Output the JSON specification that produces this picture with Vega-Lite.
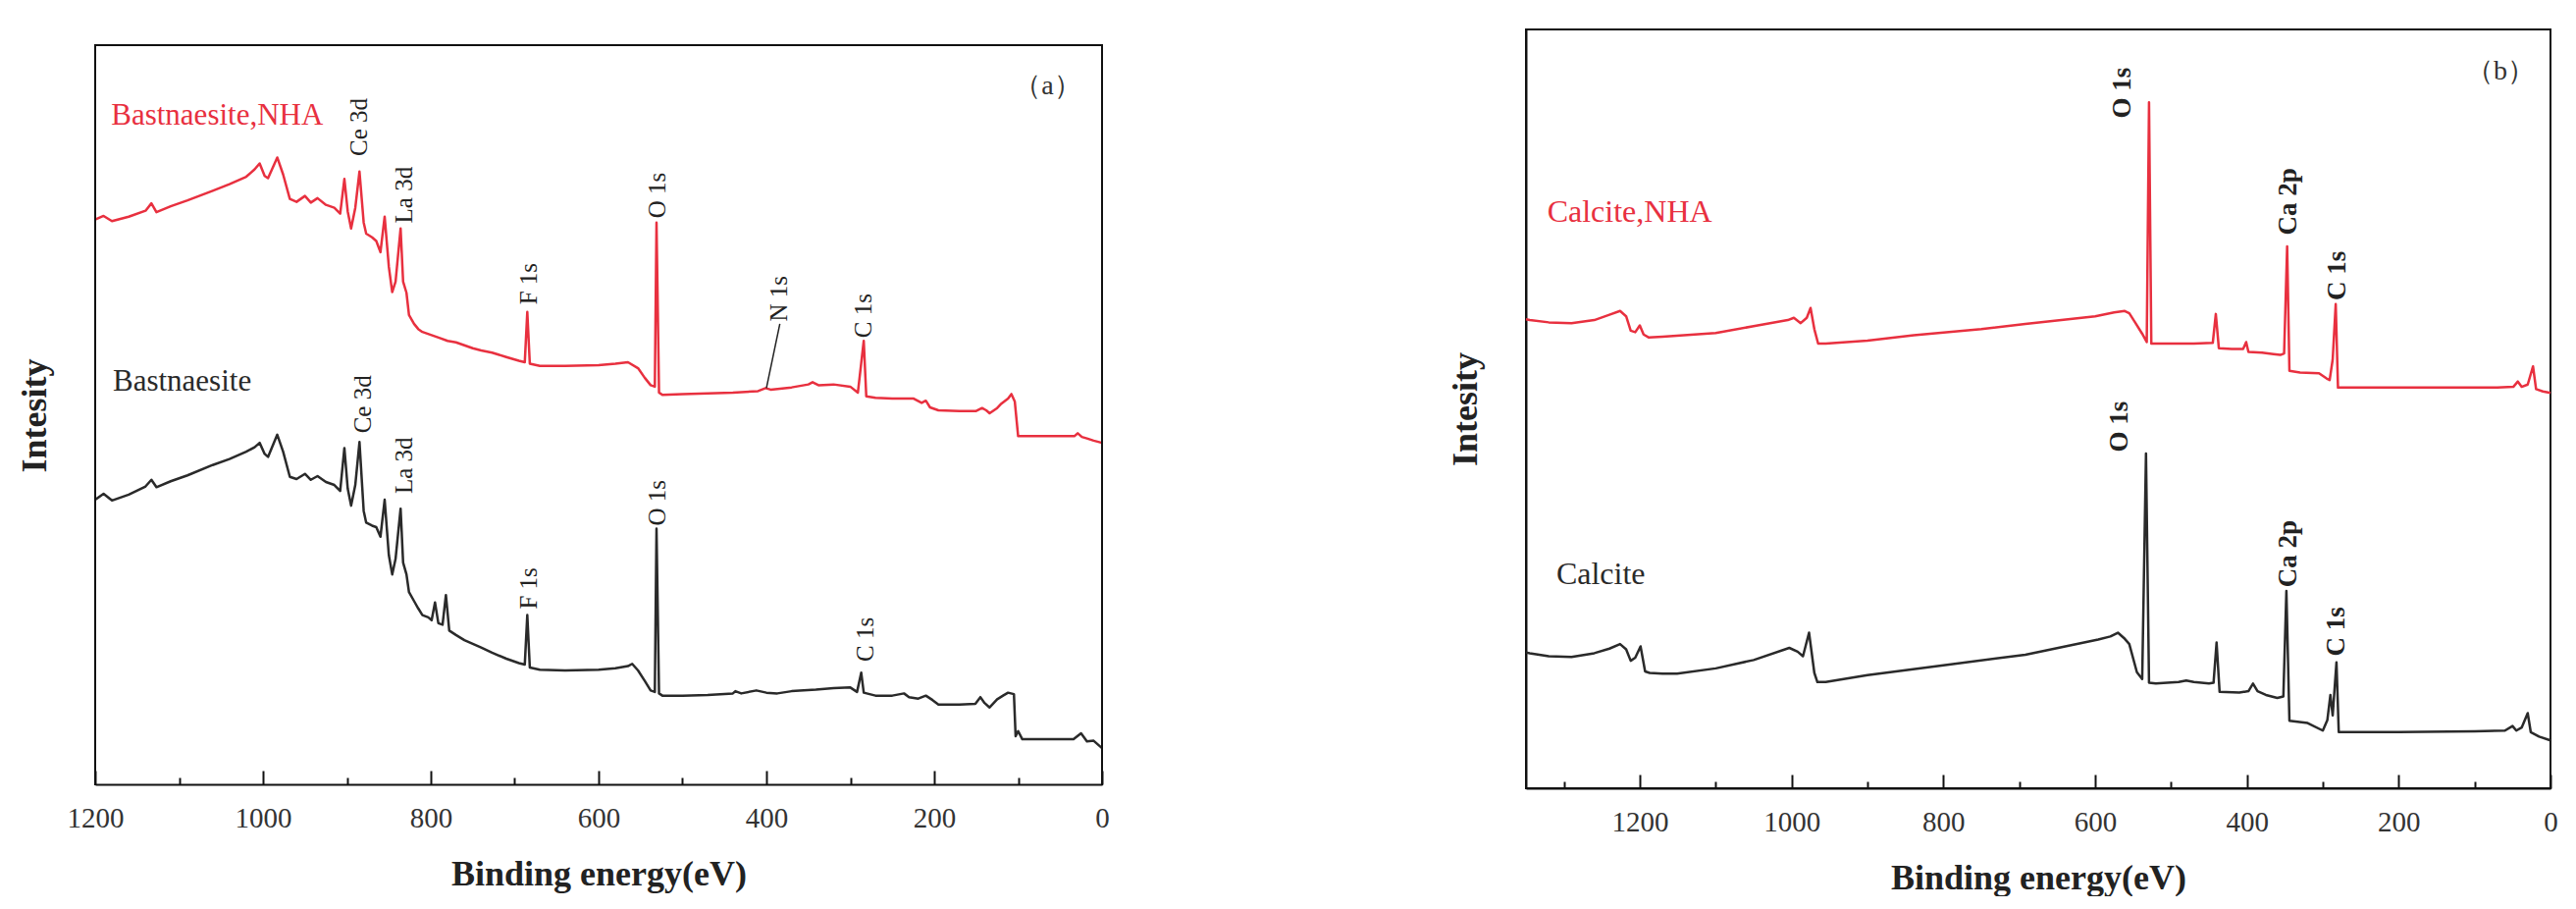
{
"$schema": "https://vega.github.io/schema/vega-lite/v6.json",
"background": "white",
"padding": {"left": 17, "top": 29, "right": 0, "bottom": 0},
"spacing": 343,
"align": "none",
"bounds": "full",
"config": {
  "view": {"stroke": "#111111", "strokeWidth": 2},
  "font": "Liberation Serif",
  "axis": {"grid": false, "domainColor": "#111111", "domainWidth": 2, "tickColor": "#111111", "tickWidth": 2, "labelFont": "Liberation Serif", "titleFont": "Liberation Serif", "labelColor": "#333333", "titleColor": "#222222"},
  "text": {"font": "Liberation Serif"}
},
"datasets": {
  "spectraA": [
{"sample":"Bastnaesite,NHA","energy":1200,"intensity":76.4},{"sample":"Bastnaesite,NHA","energy":1190,"intensity":76.9},{"sample":"Bastnaesite,NHA","energy":1180,"intensity":76.2},{"sample":"Bastnaesite,NHA","energy":1160,"intensity":76.8},{"sample":"Bastnaesite,NHA","energy":1140,"intensity":77.6},{"sample":"Bastnaesite,NHA","energy":1133,"intensity":78.6},{"sample":"Bastnaesite,NHA","energy":1127,"intensity":77.4},{"sample":"Bastnaesite,NHA","energy":1110,"intensity":78.2},{"sample":"Bastnaesite,NHA","energy":1090,"intensity":79.0},{"sample":"Bastnaesite,NHA","energy":1060,"intensity":80.3},{"sample":"Bastnaesite,NHA","energy":1040,"intensity":81.2},{"sample":"Bastnaesite,NHA","energy":1020,"intensity":82.2},{"sample":"Bastnaesite,NHA","energy":1010,"intensity":83.2},{"sample":"Bastnaesite,NHA","energy":1004,"intensity":84.0},{"sample":"Bastnaesite,NHA","energy":998,"intensity":82.3},{"sample":"Bastnaesite,NHA","energy":994,"intensity":82.0},{"sample":"Bastnaesite,NHA","energy":983,"intensity":84.8},{"sample":"Bastnaesite,NHA","energy":976,"intensity":82.5},{"sample":"Bastnaesite,NHA","energy":968,"intensity":79.2},{"sample":"Bastnaesite,NHA","energy":960,"intensity":78.8},{"sample":"Bastnaesite,NHA","energy":950,"intensity":79.6},{"sample":"Bastnaesite,NHA","energy":943,"intensity":78.7},{"sample":"Bastnaesite,NHA","energy":935,"intensity":79.3},{"sample":"Bastnaesite,NHA","energy":925,"intensity":78.4},{"sample":"Bastnaesite,NHA","energy":915,"intensity":78.0},{"sample":"Bastnaesite,NHA","energy":908,"intensity":77.2},{"sample":"Bastnaesite,NHA","energy":903,"intensity":81.9},{"sample":"Bastnaesite,NHA","energy":899,"intensity":77.5},{"sample":"Bastnaesite,NHA","energy":895,"intensity":75.2},{"sample":"Bastnaesite,NHA","energy":890,"intensity":78.0},{"sample":"Bastnaesite,NHA","energy":885,"intensity":82.9},{"sample":"Bastnaesite,NHA","energy":880,"intensity":76.0},{"sample":"Bastnaesite,NHA","energy":877,"intensity":74.5},{"sample":"Bastnaesite,NHA","energy":870,"intensity":74.0},{"sample":"Bastnaesite,NHA","energy":865,"intensity":73.5},{"sample":"Bastnaesite,NHA","energy":860,"intensity":72.0},{"sample":"Bastnaesite,NHA","energy":855,"intensity":76.8},{"sample":"Bastnaesite,NHA","energy":850,"intensity":70.0},{"sample":"Bastnaesite,NHA","energy":846,"intensity":66.6},{"sample":"Bastnaesite,NHA","energy":842,"intensity":68.0},{"sample":"Bastnaesite,NHA","energy":836,"intensity":75.2},{"sample":"Bastnaesite,NHA","energy":833,"intensity":68.0},{"sample":"Bastnaesite,NHA","energy":829,"intensity":66.5},{"sample":"Bastnaesite,NHA","energy":826,"intensity":63.5},{"sample":"Bastnaesite,NHA","energy":820,"intensity":62.3},{"sample":"Bastnaesite,NHA","energy":815,"intensity":61.6},{"sample":"Bastnaesite,NHA","energy":810,"intensity":61.2},{"sample":"Bastnaesite,NHA","energy":800,"intensity":60.8},{"sample":"Bastnaesite,NHA","energy":790,"intensity":60.4},{"sample":"Bastnaesite,NHA","energy":780,"intensity":60.0},{"sample":"Bastnaesite,NHA","energy":770,"intensity":59.8},{"sample":"Bastnaesite,NHA","energy":760,"intensity":59.4},{"sample":"Bastnaesite,NHA","energy":750,"intensity":59.0},{"sample":"Bastnaesite,NHA","energy":740,"intensity":58.7},{"sample":"Bastnaesite,NHA","energy":727,"intensity":58.4},{"sample":"Bastnaesite,NHA","energy":710,"intensity":57.8},{"sample":"Bastnaesite,NHA","energy":695,"intensity":57.3},{"sample":"Bastnaesite,NHA","energy":688,"intensity":57.1},{"sample":"Bastnaesite,NHA","energy":685,"intensity":63.9},{"sample":"Bastnaesite,NHA","energy":682,"intensity":56.9},{"sample":"Bastnaesite,NHA","energy":670,"intensity":56.6},{"sample":"Bastnaesite,NHA","energy":640,"intensity":56.6},{"sample":"Bastnaesite,NHA","energy":600,"intensity":56.7},{"sample":"Bastnaesite,NHA","energy":580,"intensity":56.9},{"sample":"Bastnaesite,NHA","energy":565,"intensity":57.1},{"sample":"Bastnaesite,NHA","energy":553,"intensity":56.3},{"sample":"Bastnaesite,NHA","energy":545,"intensity":55.0},{"sample":"Bastnaesite,NHA","energy":538,"intensity":54.0},{"sample":"Bastnaesite,NHA","energy":533,"intensity":53.8},{"sample":"Bastnaesite,NHA","energy":531,"intensity":76.0},{"sample":"Bastnaesite,NHA","energy":528,"intensity":53.0},{"sample":"Bastnaesite,NHA","energy":524,"intensity":52.7},{"sample":"Bastnaesite,NHA","energy":500,"intensity":52.8},{"sample":"Bastnaesite,NHA","energy":470,"intensity":52.9},{"sample":"Bastnaesite,NHA","energy":440,"intensity":53.0},{"sample":"Bastnaesite,NHA","energy":410,"intensity":53.2},{"sample":"Bastnaesite,NHA","energy":401,"intensity":53.6},{"sample":"Bastnaesite,NHA","energy":395,"intensity":53.4},{"sample":"Bastnaesite,NHA","energy":370,"intensity":53.7},{"sample":"Bastnaesite,NHA","energy":350,"intensity":54.1},{"sample":"Bastnaesite,NHA","energy":345,"intensity":54.4},{"sample":"Bastnaesite,NHA","energy":338,"intensity":54.0},{"sample":"Bastnaesite,NHA","energy":320,"intensity":54.1},{"sample":"Bastnaesite,NHA","energy":300,"intensity":53.8},{"sample":"Bastnaesite,NHA","energy":291,"intensity":53.0},{"sample":"Bastnaesite,NHA","energy":287,"intensity":57.0},{"sample":"Bastnaesite,NHA","energy":284,"intensity":60.0},{"sample":"Bastnaesite,NHA","energy":281,"intensity":52.5},{"sample":"Bastnaesite,NHA","energy":270,"intensity":52.3},{"sample":"Bastnaesite,NHA","energy":250,"intensity":52.2},{"sample":"Bastnaesite,NHA","energy":225,"intensity":52.2},{"sample":"Bastnaesite,NHA","energy":215,"intensity":51.6},{"sample":"Bastnaesite,NHA","energy":210,"intensity":51.9},{"sample":"Bastnaesite,NHA","energy":205,"intensity":51.0},{"sample":"Bastnaesite,NHA","energy":195,"intensity":50.6},{"sample":"Bastnaesite,NHA","energy":170,"intensity":50.5},{"sample":"Bastnaesite,NHA","energy":150,"intensity":50.5},{"sample":"Bastnaesite,NHA","energy":143,"intensity":50.9},{"sample":"Bastnaesite,NHA","energy":138,"intensity":50.6},{"sample":"Bastnaesite,NHA","energy":134,"intensity":50.2},{"sample":"Bastnaesite,NHA","energy":125,"intensity":50.9},{"sample":"Bastnaesite,NHA","energy":120,"intensity":51.5},{"sample":"Bastnaesite,NHA","energy":112,"intensity":52.2},{"sample":"Bastnaesite,NHA","energy":108,"intensity":52.8},{"sample":"Bastnaesite,NHA","energy":104,"intensity":51.8},{"sample":"Bastnaesite,NHA","energy":100,"intensity":47.1},{"sample":"Bastnaesite,NHA","energy":95,"intensity":47.1},{"sample":"Bastnaesite,NHA","energy":60,"intensity":47.1},{"sample":"Bastnaesite,NHA","energy":33,"intensity":47.1},{"sample":"Bastnaesite,NHA","energy":29,"intensity":47.5},{"sample":"Bastnaesite,NHA","energy":24,"intensity":47.0},{"sample":"Bastnaesite,NHA","energy":18,"intensity":46.8},{"sample":"Bastnaesite,NHA","energy":10,"intensity":46.5},{"sample":"Bastnaesite,NHA","energy":0,"intensity":46.2},
{"sample":"Bastnaesite","energy":1200,"intensity":38.5},{"sample":"Bastnaesite","energy":1190,"intensity":39.3},{"sample":"Bastnaesite","energy":1180,"intensity":38.4},{"sample":"Bastnaesite","energy":1160,"intensity":39.2},{"sample":"Bastnaesite","energy":1140,"intensity":40.3},{"sample":"Bastnaesite","energy":1133,"intensity":41.2},{"sample":"Bastnaesite","energy":1127,"intensity":40.2},{"sample":"Bastnaesite","energy":1110,"intensity":41.0},{"sample":"Bastnaesite","energy":1090,"intensity":41.8},{"sample":"Bastnaesite","energy":1060,"intensity":43.2},{"sample":"Bastnaesite","energy":1040,"intensity":44.0},{"sample":"Bastnaesite","energy":1020,"intensity":45.0},{"sample":"Bastnaesite","energy":1010,"intensity":45.6},{"sample":"Bastnaesite","energy":1004,"intensity":46.2},{"sample":"Bastnaesite","energy":998,"intensity":44.7},{"sample":"Bastnaesite","energy":994,"intensity":44.3},{"sample":"Bastnaesite","energy":983,"intensity":47.3},{"sample":"Bastnaesite","energy":976,"intensity":45.0},{"sample":"Bastnaesite","energy":968,"intensity":41.6},{"sample":"Bastnaesite","energy":960,"intensity":41.3},{"sample":"Bastnaesite","energy":950,"intensity":42.0},{"sample":"Bastnaesite","energy":943,"intensity":41.2},{"sample":"Bastnaesite","energy":935,"intensity":41.7},{"sample":"Bastnaesite","energy":925,"intensity":40.9},{"sample":"Bastnaesite","energy":915,"intensity":40.5},{"sample":"Bastnaesite","energy":908,"intensity":39.7},{"sample":"Bastnaesite","energy":903,"intensity":45.5},{"sample":"Bastnaesite","energy":899,"intensity":40.0},{"sample":"Bastnaesite","energy":895,"intensity":37.7},{"sample":"Bastnaesite","energy":890,"intensity":40.5},{"sample":"Bastnaesite","energy":885,"intensity":46.3},{"sample":"Bastnaesite","energy":880,"intensity":37.0},{"sample":"Bastnaesite","energy":877,"intensity":35.4},{"sample":"Bastnaesite","energy":870,"intensity":35.0},{"sample":"Bastnaesite","energy":865,"intensity":34.8},{"sample":"Bastnaesite","energy":860,"intensity":33.5},{"sample":"Bastnaesite","energy":855,"intensity":38.5},{"sample":"Bastnaesite","energy":850,"intensity":31.0},{"sample":"Bastnaesite","energy":846,"intensity":28.4},{"sample":"Bastnaesite","energy":842,"intensity":30.5},{"sample":"Bastnaesite","energy":836,"intensity":37.3},{"sample":"Bastnaesite","energy":833,"intensity":30.0},{"sample":"Bastnaesite","energy":829,"intensity":28.4},{"sample":"Bastnaesite","energy":826,"intensity":26.0},{"sample":"Bastnaesite","energy":820,"intensity":24.8},{"sample":"Bastnaesite","energy":815,"intensity":23.8},{"sample":"Bastnaesite","energy":810,"intensity":22.9},{"sample":"Bastnaesite","energy":803,"intensity":22.6},{"sample":"Bastnaesite","energy":799,"intensity":22.2},{"sample":"Bastnaesite","energy":795,"intensity":24.6},{"sample":"Bastnaesite","energy":791,"intensity":21.8},{"sample":"Bastnaesite","energy":786,"intensity":21.6},{"sample":"Bastnaesite","energy":782,"intensity":25.6},{"sample":"Bastnaesite","energy":778,"intensity":20.8},{"sample":"Bastnaesite","energy":770,"intensity":20.2},{"sample":"Bastnaesite","energy":760,"intensity":19.5},{"sample":"Bastnaesite","energy":740,"intensity":18.5},{"sample":"Bastnaesite","energy":727,"intensity":17.8},{"sample":"Bastnaesite","energy":710,"intensity":17.0},{"sample":"Bastnaesite","energy":695,"intensity":16.4},{"sample":"Bastnaesite","energy":688,"intensity":16.2},{"sample":"Bastnaesite","energy":685,"intensity":22.9},{"sample":"Bastnaesite","energy":682,"intensity":15.8},{"sample":"Bastnaesite","energy":670,"intensity":15.5},{"sample":"Bastnaesite","energy":640,"intensity":15.4},{"sample":"Bastnaesite","energy":600,"intensity":15.5},{"sample":"Bastnaesite","energy":580,"intensity":15.7},{"sample":"Bastnaesite","energy":565,"intensity":16.0},{"sample":"Bastnaesite","energy":560,"intensity":16.3},{"sample":"Bastnaesite","energy":553,"intensity":15.4},{"sample":"Bastnaesite","energy":545,"intensity":14.0},{"sample":"Bastnaesite","energy":538,"intensity":12.7},{"sample":"Bastnaesite","energy":533,"intensity":12.5},{"sample":"Bastnaesite","energy":531,"intensity":34.6},{"sample":"Bastnaesite","energy":528,"intensity":12.3},{"sample":"Bastnaesite","energy":524,"intensity":12.0},{"sample":"Bastnaesite","energy":500,"intensity":12.0},{"sample":"Bastnaesite","energy":470,"intensity":12.1},{"sample":"Bastnaesite","energy":440,"intensity":12.3},{"sample":"Bastnaesite","energy":437,"intensity":12.6},{"sample":"Bastnaesite","energy":430,"intensity":12.3},{"sample":"Bastnaesite","energy":412,"intensity":12.7},{"sample":"Bastnaesite","energy":400,"intensity":12.4},{"sample":"Bastnaesite","energy":387,"intensity":12.3},{"sample":"Bastnaesite","energy":370,"intensity":12.6},{"sample":"Bastnaesite","energy":341,"intensity":12.8},{"sample":"Bastnaesite","energy":320,"intensity":13.0},{"sample":"Bastnaesite","energy":300,"intensity":13.1},{"sample":"Bastnaesite","energy":292,"intensity":12.5},{"sample":"Bastnaesite","energy":287,"intensity":15.1},{"sample":"Bastnaesite","energy":284,"intensity":12.4},{"sample":"Bastnaesite","energy":270,"intensity":12.0},{"sample":"Bastnaesite","energy":250,"intensity":12.0},{"sample":"Bastnaesite","energy":236,"intensity":12.3},{"sample":"Bastnaesite","energy":230,"intensity":11.8},{"sample":"Bastnaesite","energy":219,"intensity":11.6},{"sample":"Bastnaesite","energy":210,"intensity":12.0},{"sample":"Bastnaesite","energy":202,"intensity":11.4},{"sample":"Bastnaesite","energy":195,"intensity":10.8},{"sample":"Bastnaesite","energy":170,"intensity":10.8},{"sample":"Bastnaesite","energy":151,"intensity":10.9},{"sample":"Bastnaesite","energy":145,"intensity":11.8},{"sample":"Bastnaesite","energy":140,"intensity":11.0},{"sample":"Bastnaesite","energy":134,"intensity":10.4},{"sample":"Bastnaesite","energy":125,"intensity":11.5},{"sample":"Bastnaesite","energy":118,"intensity":12.0},{"sample":"Bastnaesite","energy":112,"intensity":12.4},{"sample":"Bastnaesite","energy":105,"intensity":12.2},{"sample":"Bastnaesite","energy":103,"intensity":6.5},{"sample":"Bastnaesite","energy":100,"intensity":7.2},{"sample":"Bastnaesite","energy":95,"intensity":6.1},{"sample":"Bastnaesite","energy":60,"intensity":6.1},{"sample":"Bastnaesite","energy":34,"intensity":6.1},{"sample":"Bastnaesite","energy":25,"intensity":6.9},{"sample":"Bastnaesite","energy":18,"intensity":5.8},{"sample":"Bastnaesite","energy":10,"intensity":5.9},{"sample":"Bastnaesite","energy":0,"intensity":4.9}
  ],
  "spectraB": [
{"sample":"Calcite,NHA","energy":1350,"intensity":61.8},{"sample":"Calcite,NHA","energy":1345,"intensity":61.7},{"sample":"Calcite,NHA","energy":1320,"intensity":61.4},{"sample":"Calcite,NHA","energy":1290,"intensity":61.3},{"sample":"Calcite,NHA","energy":1260,"intensity":61.7},{"sample":"Calcite,NHA","energy":1240,"intensity":62.4},{"sample":"Calcite,NHA","energy":1226,"intensity":62.9},{"sample":"Calcite,NHA","energy":1218,"intensity":62.2},{"sample":"Calcite,NHA","energy":1212,"intensity":60.3},{"sample":"Calcite,NHA","energy":1206,"intensity":60.1},{"sample":"Calcite,NHA","energy":1200,"intensity":61.0},{"sample":"Calcite,NHA","energy":1195,"intensity":59.8},{"sample":"Calcite,NHA","energy":1188,"intensity":59.4},{"sample":"Calcite,NHA","energy":1170,"intensity":59.5},{"sample":"Calcite,NHA","energy":1100,"intensity":60.0},{"sample":"Calcite,NHA","energy":1050,"intensity":60.9},{"sample":"Calcite,NHA","energy":1005,"intensity":61.7},{"sample":"Calcite,NHA","energy":997,"intensity":62.0},{"sample":"Calcite,NHA","energy":988,"intensity":61.3},{"sample":"Calcite,NHA","energy":980,"intensity":62.0},{"sample":"Calcite,NHA","energy":975,"intensity":63.3},{"sample":"Calcite,NHA","energy":970,"intensity":60.5},{"sample":"Calcite,NHA","energy":965,"intensity":58.6},{"sample":"Calcite,NHA","energy":955,"intensity":58.6},{"sample":"Calcite,NHA","energy":900,"intensity":59.0},{"sample":"Calcite,NHA","energy":839,"intensity":59.7},{"sample":"Calcite,NHA","energy":750,"intensity":60.5},{"sample":"Calcite,NHA","energy":692,"intensity":61.2},{"sample":"Calcite,NHA","energy":600,"intensity":62.2},{"sample":"Calcite,NHA","energy":575,"intensity":62.7},{"sample":"Calcite,NHA","energy":561,"intensity":62.9},{"sample":"Calcite,NHA","energy":555,"intensity":62.6},{"sample":"Calcite,NHA","energy":548,"intensity":61.5},{"sample":"Calcite,NHA","energy":538,"intensity":59.9},{"sample":"Calcite,NHA","energy":532,"intensity":58.8},{"sample":"Calcite,NHA","energy":529,"intensity":90.4},{"sample":"Calcite,NHA","energy":526,"intensity":58.6},{"sample":"Calcite,NHA","energy":500,"intensity":58.6},{"sample":"Calcite,NHA","energy":470,"intensity":58.6},{"sample":"Calcite,NHA","energy":445,"intensity":58.7},{"sample":"Calcite,NHA","energy":441,"intensity":62.5},{"sample":"Calcite,NHA","energy":437,"intensity":58.0},{"sample":"Calcite,NHA","energy":420,"intensity":57.9},{"sample":"Calcite,NHA","energy":405,"intensity":57.9},{"sample":"Calcite,NHA","energy":401,"intensity":58.8},{"sample":"Calcite,NHA","energy":398,"intensity":57.5},{"sample":"Calcite,NHA","energy":380,"intensity":57.4},{"sample":"Calcite,NHA","energy":365,"intensity":57.2},{"sample":"Calcite,NHA","energy":356,"intensity":57.1},{"sample":"Calcite,NHA","energy":351,"intensity":57.3},{"sample":"Calcite,NHA","energy":347,"intensity":71.4},{"sample":"Calcite,NHA","energy":344,"intensity":55.0},{"sample":"Calcite,NHA","energy":330,"intensity":54.8},{"sample":"Calcite,NHA","energy":305,"intensity":54.7},{"sample":"Calcite,NHA","energy":295,"intensity":54.0},{"sample":"Calcite,NHA","energy":291,"intensity":53.8},{"sample":"Calcite,NHA","energy":287,"intensity":56.5},{"sample":"Calcite,NHA","energy":283,"intensity":63.8},{"sample":"Calcite,NHA","energy":280,"intensity":52.8},{"sample":"Calcite,NHA","energy":250,"intensity":52.8},{"sample":"Calcite,NHA","energy":150,"intensity":52.8},{"sample":"Calcite,NHA","energy":70,"intensity":52.8},{"sample":"Calcite,NHA","energy":49,"intensity":52.9},{"sample":"Calcite,NHA","energy":43,"intensity":53.6},{"sample":"Calcite,NHA","energy":38,"intensity":52.9},{"sample":"Calcite,NHA","energy":30,"intensity":53.2},{"sample":"Calcite,NHA","energy":23,"intensity":55.6},{"sample":"Calcite,NHA","energy":19,"intensity":52.6},{"sample":"Calcite,NHA","energy":10,"intensity":52.3},{"sample":"Calcite,NHA","energy":0,"intensity":52.1},
{"sample":"Calcite","energy":1350,"intensity":17.9},{"sample":"Calcite","energy":1345,"intensity":17.8},{"sample":"Calcite","energy":1320,"intensity":17.4},{"sample":"Calcite","energy":1290,"intensity":17.3},{"sample":"Calcite","energy":1260,"intensity":17.8},{"sample":"Calcite","energy":1240,"intensity":18.4},{"sample":"Calcite","energy":1226,"intensity":19.0},{"sample":"Calcite","energy":1218,"intensity":18.3},{"sample":"Calcite","energy":1212,"intensity":16.8},{"sample":"Calcite","energy":1206,"intensity":17.2},{"sample":"Calcite","energy":1199,"intensity":18.7},{"sample":"Calcite","energy":1193,"intensity":15.4},{"sample":"Calcite","energy":1187,"intensity":15.2},{"sample":"Calcite","energy":1170,"intensity":15.1},{"sample":"Calcite","energy":1151,"intensity":15.1},{"sample":"Calcite","energy":1100,"intensity":15.8},{"sample":"Calcite","energy":1050,"intensity":16.9},{"sample":"Calcite","energy":1003,"intensity":18.5},{"sample":"Calcite","energy":992,"intensity":18.0},{"sample":"Calcite","energy":985,"intensity":17.4},{"sample":"Calcite","energy":977,"intensity":20.5},{"sample":"Calcite","energy":970,"intensity":15.2},{"sample":"Calcite","energy":966,"intensity":14.0},{"sample":"Calcite","energy":955,"intensity":14.0},{"sample":"Calcite","energy":900,"intensity":14.9},{"sample":"Calcite","energy":800,"intensity":16.2},{"sample":"Calcite","energy":692,"intensity":17.6},{"sample":"Calcite","energy":596,"intensity":19.6},{"sample":"Calcite","energy":580,"intensity":20.0},{"sample":"Calcite","energy":570,"intensity":20.5},{"sample":"Calcite","energy":562,"intensity":19.8},{"sample":"Calcite","energy":555,"intensity":19.0},{"sample":"Calcite","energy":545,"intensity":15.3},{"sample":"Calcite","energy":538,"intensity":14.4},{"sample":"Calcite","energy":533,"intensity":44.1},{"sample":"Calcite","energy":529,"intensity":13.9},{"sample":"Calcite","energy":520,"intensity":13.8},{"sample":"Calcite","energy":490,"intensity":14.0},{"sample":"Calcite","energy":480,"intensity":14.2},{"sample":"Calcite","energy":470,"intensity":14.0},{"sample":"Calcite","energy":450,"intensity":13.8},{"sample":"Calcite","energy":444,"intensity":13.9},{"sample":"Calcite","energy":440,"intensity":19.2},{"sample":"Calcite","energy":436,"intensity":12.7},{"sample":"Calcite","energy":410,"intensity":12.6},{"sample":"Calcite","energy":398,"intensity":12.8},{"sample":"Calcite","energy":392,"intensity":13.8},{"sample":"Calcite","energy":386,"intensity":12.8},{"sample":"Calcite","energy":375,"intensity":12.3},{"sample":"Calcite","energy":360,"intensity":11.9},{"sample":"Calcite","energy":352,"intensity":12.1},{"sample":"Calcite","energy":348,"intensity":26.0},{"sample":"Calcite","energy":344,"intensity":8.9},{"sample":"Calcite","energy":320,"intensity":8.6},{"sample":"Calcite","energy":300,"intensity":7.6},{"sample":"Calcite","energy":294,"intensity":9.0},{"sample":"Calcite","energy":290,"intensity":12.3},{"sample":"Calcite","energy":287,"intensity":9.6},{"sample":"Calcite","energy":282,"intensity":16.6},{"sample":"Calcite","energy":279,"intensity":7.4},{"sample":"Calcite","energy":200,"intensity":7.4},{"sample":"Calcite","energy":100,"intensity":7.5},{"sample":"Calcite","energy":60,"intensity":7.6},{"sample":"Calcite","energy":50,"intensity":8.2},{"sample":"Calcite","energy":45,"intensity":7.6},{"sample":"Calcite","energy":38,"intensity":8.0},{"sample":"Calcite","energy":30,"intensity":9.9},{"sample":"Calcite","energy":26,"intensity":7.4},{"sample":"Calcite","energy":15,"intensity":6.8},{"sample":"Calcite","energy":0,"intensity":6.3}
  ],
  "peaksA": [
{"label":"Ce 3d","energy":885,"intensity":85.0},{"label":"La 3d","energy":831,"intensity":75.9},{"label":"F 1s","energy":683,"intensity":64.9},{"label":"O 1s","energy":530,"intensity":76.6},{"label":"N 1s","energy":385,"intensity":62.6},{"label":"C 1s","energy":284,"intensity":60.4},
{"label":"Ce 3d","energy":881,"intensity":47.5},{"label":"La 3d","energy":831,"intensity":39.3},{"label":"F 1s","energy":683,"intensity":23.7},{"label":"O 1s","energy":530,"intensity":35.0},{"label":"C 1s","energy":282,"intensity":16.6}
  ],
  "peaksB": [
{"label":"O 1s","energy":564,"intensity":88.3},{"label":"Ca 2p","energy":345,"intensity":72.9},{"label":"C 1s","energy":280,"intensity":64.3},
{"label":"O 1s","energy":568,"intensity":44.3},{"label":"Ca 2p","energy":345,"intensity":26.5},{"label":"C 1s","energy":282,"intensity":17.4}
  ],
  "namesA": [{"sample":"Bastnaesite,NHA","energy":1181,"intensity":90.5},{"sample":"Bastnaesite","energy":1179,"intensity":54.5}],
  "namesB": [{"sample":"Calcite,NHA","energy":1322,"intensity":76.0},{"sample":"Calcite","energy":1310,"intensity":28.2}],
  "frameA": [
{"energy":1200,"intensity":0,"energy_end":1200,"intensity_end":100},
{"energy":0,"intensity":0,"energy_end":0,"intensity_end":100},
{"energy":1200,"intensity":100,"energy_end":0,"intensity_end":100}
  ]
},
"hconcat": [
{
  "width": 1026,
  "height": 769,
  "view": {"stroke": null},
  "layer": [
    {
      "data": {"name": "spectraA"},
      "mark": {"type": "line", "strokeWidth": 2.5, "strokeJoin": "round"},
      "encoding": {
        "x": {"field": "energy", "type": "quantitative", "scale": {"domain": [1200, 0], "nice": false, "zero": false},
          "axis": {"values": [1200,1100,1000,900,800,700,600,500,400,300,200,100,0], "format": "d", "title": "Binding energy(eV)",
            "tickSize": {"condition": {"test": "datum.value % 200 === 0", "value": -14}, "value": -7},
            "labelExpr": "datum.value % 200 === 0 ? datum.label : ''", "labelFontSize": 29, "labelPadding": 34, "labelOverlap": false, "labelFlush": false,
            "titleFontSize": 36, "titleFontWeight": "bold", "titlePadding": 18}},
        "y": {"field": "intensity", "type": "quantitative", "scale": {"domain": [0, 102.125], "nice": false},
          "axis": {"title": "Intesity", "labels": false, "ticks": false, "domain": false, "titleFontSize": 36, "titleFontWeight": "bold", "titlePadding": 43, "titleY": 393}},
        "color": {"field": "sample", "type": "nominal", "scale": {"domain": ["Bastnaesite,NHA", "Bastnaesite"], "range": ["#e8303f", "#2a2a2a"]}, "legend": null}
      }
    },
    {
      "data": {"name": "frameA"},
      "mark": {"type": "rule", "color": "#111111", "strokeWidth": 2, "strokeCap": "square"},
      "encoding": {
        "x": {"field": "energy", "type": "quantitative"},
        "x2": {"field": "energy_end"},
        "y": {"field": "intensity", "type": "quantitative"},
        "y2": {"field": "intensity_end"}
      }
    },
    {
      "data": {"name": "namesA"},
      "mark": {"type": "text", "align": "left", "baseline": "middle", "fontSize": 31},
      "encoding": {
        "x": {"field": "energy", "type": "quantitative"},
        "y": {"field": "intensity", "type": "quantitative"},
        "text": {"field": "sample"},
        "color": {"field": "sample", "type": "nominal"}
      }
    },
    {
      "data": {"name": "peaksA"},
      "mark": {"type": "text", "angle": 270, "align": "left", "baseline": "middle", "fontSize": 25, "color": "#222222"},
      "encoding": {
        "x": {"field": "energy", "type": "quantitative"},
        "y": {"field": "intensity", "type": "quantitative"},
        "text": {"field": "label"}
      }
    },
    {
      "data": {"values": [{"energy": 400, "intensity": 53.6, "energy_end": 384, "intensity_end": 62.3}]},
      "mark": {"type": "rule", "color": "#222222", "strokeWidth": 1.5},
      "encoding": {
        "x": {"field": "energy", "type": "quantitative"},
        "x2": {"field": "energy_end"},
        "y": {"field": "intensity", "type": "quantitative"},
        "y2": {"field": "intensity_end"}
      }
    },
    {
      "data": {"values": [{"tag": "（a）", "energy": 65, "intensity": 94.4}]},
      "mark": {"type": "text", "align": "center", "baseline": "middle", "fontSize": 28, "color": "#333333"},
      "encoding": {
        "x": {"field": "energy", "type": "quantitative"},
        "y": {"field": "intensity", "type": "quantitative"},
        "text": {"field": "tag"}
      }
    }
  ]
},
{
  "width": 1044,
  "height": 773,
  "layer": [
    {
      "data": {"name": "spectraB"},
      "mark": {"type": "line", "strokeWidth": 2.5, "strokeJoin": "round"},
      "encoding": {
        "x": {"field": "energy", "type": "quantitative", "scale": {"domain": [1350, 0], "nice": false, "zero": false},
          "axis": {"values": [1300,1200,1100,1000,900,800,700,600,500,400,300,200,100,0], "format": "d", "title": "Binding energy(eV)",
            "tickSize": {"condition": {"test": "datum.value % 200 === 0", "value": -14}, "value": -7},
            "labelExpr": "datum.value % 200 === 0 ? datum.label : ''", "labelFontSize": 29, "labelPadding": 34, "labelOverlap": false, "labelFlush": false,
            "titleFontSize": 36, "titleFontWeight": "bold", "titlePadding": 18}},
        "y": {"field": "intensity", "type": "quantitative", "scale": {"domain": [0, 100], "nice": false},
          "axis": {"title": "Intesity", "labels": false, "ticks": false, "titleFontSize": 36, "titleFontWeight": "bold", "titlePadding": 43}},
        "color": {"field": "sample", "type": "nominal", "scale": {"domain": ["Calcite,NHA", "Calcite"], "range": ["#e8303f", "#333333"]}, "legend": null}
      }
    },
    {
      "data": {"name": "namesB"},
      "mark": {"type": "text", "align": "left", "baseline": "middle", "fontSize": 32},
      "encoding": {
        "x": {"field": "energy", "type": "quantitative"},
        "y": {"field": "intensity", "type": "quantitative"},
        "text": {"field": "sample"},
        "color": {"field": "sample", "type": "nominal"}
      }
    },
    {
      "data": {"name": "peaksB"},
      "mark": {"type": "text", "angle": 270, "align": "left", "baseline": "middle", "fontSize": 27, "fontWeight": "bold", "color": "#222222"},
      "encoding": {
        "x": {"field": "energy", "type": "quantitative"},
        "y": {"field": "intensity", "type": "quantitative"},
        "text": {"field": "label"}
      }
    },
    {
      "data": {"values": [{"tag": "（b）", "energy": 66, "intensity": 94.5}]},
      "mark": {"type": "text", "align": "center", "baseline": "middle", "fontSize": 28, "color": "#333333"},
      "encoding": {
        "x": {"field": "energy", "type": "quantitative"},
        "y": {"field": "intensity", "type": "quantitative"},
        "text": {"field": "tag"}
      }
    }
  ]
}
]
}
